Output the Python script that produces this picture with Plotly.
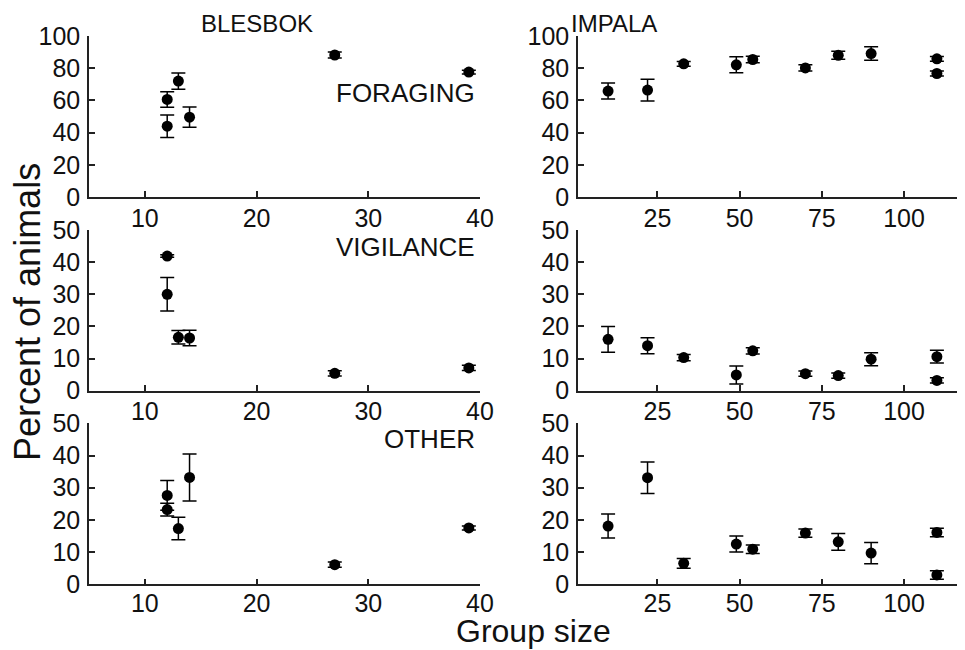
import plotly.graph_objects as go

# ---------------- data ----------------
behaviours = ["FORAGING", "VIGILANCE", "OTHER"]

blesbok_x = [12, 12, 13, 14, 27, 39]
blesbok_foraging = [60.6, 44.0, 72.0, 49.6, 88.2, 77.6]
blesbok_foraging_err = [4.8, 7.0, 5.0, 6.3, 1.8, 1.2]
blesbok_vigilance = [41.9, 30.0, 16.6, 16.4, 5.4, 7.1]
blesbok_vigilance_err = [0.4, 5.2, 2.1, 2.4, 0.8, 0.8]
blesbok_other = [27.6, 23.2, 17.3, 33.2, 6.1, 17.5]
blesbok_other_err = [4.6, 2.0, 3.5, 7.3, 0.8, 0.6]

impala_x = [10, 22, 33, 49, 54, 70, 80, 90, 110, 110]
impala_foraging = [65.8, 66.4, 82.7, 82.1, 85.4, 80.2, 88.0, 89.1, 85.8, 76.7]
impala_foraging_err = [5.0, 6.8, 1.5, 5.0, 2.0, 2.0, 2.5, 4.2, 1.5, 1.5]
impala_vigilance = [16.0, 14.0, 10.3, 4.9, 12.4, 5.3, 4.7, 9.8, 10.6, 3.2]
impala_vigilance_err = [4.0, 2.5, 1.0, 2.8, 1.0, 0.8, 0.8, 2.0, 2.0, 0.8]
impala_other = [18.1, 33.1, 6.5, 12.5, 10.9, 15.9, 13.2, 9.7, 16.1, 2.9]
impala_other_err = [3.7, 4.9, 1.5, 2.5, 1.3, 1.3, 2.6, 3.3, 1.3, 1.3]

blesbok_xticks = [10, 20, 30, 40]
impala_xticks = [25, 50, 75, 100]
foraging_yticks = [0, 20, 40, 60, 80, 100]
small_yticks = [0, 10, 20, 30, 40, 50]

# ---------------- layout geometry ----------------
# page body has an 8px margin, so the figure starts 8px in from the window corner
OFF = 8
W, H = 965 - OFF, 650 - OFF
FONT = "Liberation Sans, Arial, Helvetica, sans-serif"

def fx(p):
    return (p - OFF) / W

def fy(p):
    return 1 - (p - OFF) / H

left_dom = [fx(89), fx(480)]
right_dom = [fx(578), 1.0]
row_px = [(36, 197), (230, 390.7), (423.3, 584.3)]
row_doms = [[fy(b), fy(t)] for t, b in row_px]
row_ranges = [[0, 100], [0, 50], [0, 50]]
row_ticks = [foraging_yticks, small_yticks, small_yticks]

blesbok_series = [
    (blesbok_foraging, blesbok_foraging_err),
    (blesbok_vigilance, blesbok_vigilance_err),
    (blesbok_other, blesbok_other_err),
]
impala_series = [
    (impala_foraging, impala_foraging_err),
    (impala_vigilance, impala_vigilance_err),
    (impala_other, impala_other_err),
]

fig = go.Figure()

axis_common = dict(
    showline=True, linecolor="#222", linewidth=1.5,
    ticks="inside", ticklen=6, tickwidth=1.5, tickcolor="#222",
    showgrid=False, zeroline=False, automargin=False,
    tickfont=dict(family=FONT, size=25, color="#111"),
)

layout_axes = {}
n = 0
for r in range(3):
    for c in range(2):
        n += 1
        xa = "xaxis" if n == 1 else f"xaxis{n}"
        ya = "yaxis" if n == 1 else f"yaxis{n}"
        xref = "x" if n == 1 else f"x{n}"
        yref = "y" if n == 1 else f"y{n}"
        if c == 0:
            xs = blesbok_x
            ys, es = blesbok_series[r]
            xdom, xrange, xticks = left_dom, [5, 40], blesbok_xticks
        else:
            xs = impala_x
            ys, es = impala_series[r]
            xdom, xrange, xticks = right_dom, [0.85, 118.55], impala_xticks
        fig.add_trace(go.Scatter(
            x=xs, y=ys, mode="markers",
            marker=dict(color="black", size=11),
            error_y=dict(type="data", array=es, visible=True,
                         color="black", thickness=1.5, width=7),
            xaxis=xref, yaxis=yref, showlegend=False, cliponaxis=False,
        ))
        layout_axes[xa] = dict(axis_common, domain=xdom, range=xrange,
                               tickvals=xticks, anchor=yref,
                               ticklabelstandoff=-4 if r == 2 else -2)
        layout_axes[ya] = dict(axis_common, domain=row_doms[r], range=row_ranges[r],
                               tickvals=row_ticks[r], anchor=xref, ticklabelstandoff=2)

fig.update_layout(**layout_axes)

annotations = []
label_y = [93, 247, 439]
for r, name in enumerate(behaviours):
    annotations.append(dict(
        text=name, x=fx(477), y=fy(label_y[r]), xref="paper", yref="paper",
        xanchor="right", yanchor="middle", showarrow=False,
        font=dict(family=FONT, size=26, color="#111")))
for name, cx in (("BLESBOK", 257), ("IMPALA", 614)):
    annotations.append(dict(text=name, x=fx(cx), y=1.0, xref="paper", yref="paper",
                            xanchor="center", yanchor="top", showarrow=False,
                            font=dict(family=FONT, size=24, color="#111")))
annotations.append(dict(text="Percent of animals", x=fx(27), y=fy(312), xref="paper", yref="paper",
                        xanchor="center", yanchor="middle", textangle=-90, showarrow=False,
                        font=dict(family=FONT, size=36, color="#111")))
annotations.append(dict(text="Group size", x=fx(533), y=0.0, xref="paper", yref="paper",
                        xanchor="center", yanchor="bottom", showarrow=False, borderpad=0,
                        font=dict(family=FONT, size=32, color="#111")))

fig.update_layout(
    width=W, height=H,
    margin=dict(l=0, r=0, t=0, b=0),
    paper_bgcolor="white", plot_bgcolor="white",
    annotations=annotations,
    font=dict(family=FONT),
)

fig.write_html("out.html")
